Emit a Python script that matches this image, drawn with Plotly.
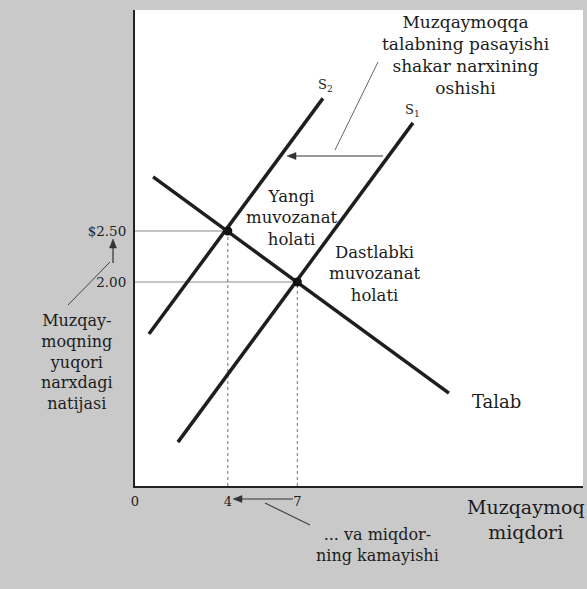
import plotly.graph_objects as go

# ---- data ----
demand_q = [0.78, 13.53]
demand_p = [3.03, 0.91]
s1_q = [1.85, 11.98]
s1_p = [0.43, 3.56]
s2_q = [0.60, 8.10]
s2_p = [1.49, 3.80]
eq_q = [4, 7]
eq_p = [2.50, 2.00]
y_tick_vals = [2.50, 2.00]
y_tick_text = ["$2.50", "2.00"]
x_tick_vals = [0, 4, 7]
x_tick_text = ["0", "4", "7"]

W, H = 587, 589
ML, MR, MT, MB = 135, 4, 10, 103
PW = W - ML - MR
PH = H - MT - MB
XMAX = PW / 23.2
YMAX = PH / 102.0

def pxx(px):
    return (px - ML) / PW

def pxy(py):
    return (H - MB - py) / PH

FONT = "DejaVu Serif"
TXT = "#1c1c1c"
LINE = "#1e1e1e"

fig = go.Figure()

# guide lines to equilibria
for q, p in zip(eq_q, eq_p):
    fig.add_trace(go.Scatter(x=[0, q], y=[p, p], mode="lines",
                             line=dict(color="#8a8a8a", width=1), hoverinfo="skip", showlegend=False))
    fig.add_trace(go.Scatter(x=[q, q], y=[0, p], mode="lines",
                             line=dict(color="#8a8a8a", width=1.2, dash="dot"), hoverinfo="skip", showlegend=False))

for xs, ys in [(demand_q, demand_p), (s1_q, s1_p), (s2_q, s2_p)]:
    fig.add_trace(go.Scatter(x=xs, y=ys, mode="lines",
                             line=dict(color=LINE, width=3.5), showlegend=False))

fig.add_trace(go.Scatter(x=eq_q, y=eq_p, mode="markers",
                         marker=dict(color="#111", size=9), showlegend=False))

ann = []
def txt(x, y, t, size=16, xref="x", yref="y", align="center", xanchor="center", yanchor="middle"):
    ann.append(dict(x=x, y=y, xref=xref, yref=yref, text=t, showarrow=False,
                    font=dict(family=FONT, size=size, color=TXT), align=align,
                    xanchor=xanchor, yanchor=yanchor))

txt(14.27, 4.23, "Muzqaymoqqa<br>talabning pasayishi<br>shakar narxining<br>oshishi", size=17)
txt(6.77, 2.63, "Yangi<br>muvozanat<br>holati", size=16.5)
txt(10.34, 2.08, "Dastlabki<br>muvozanat<br>holati", size=16.5)
txt(15.6, 0.83, "Talab", size=18)
txt(8.19, 3.93, "S<sub>2</sub>", size=13)
txt(11.98, 3.68, "S<sub>1</sub>", size=13)

txt(pxx(77), pxy(362), "Muzqay-<br>moqning<br>yuqori<br>narxdagi<br>natijasi", size=16, xref="paper", yref="paper")
txt(pxx(377), pxy(545), "... va miqdor-<br>ning kamayishi", size=16, xref="paper", yref="paper")
txt(pxx(526), pxy(519), "Muzqaymoq<br>miqdori", size=19, xref="paper", yref="paper")

def pline(x0, y0, x1, y1, color="#444", width=1.2):
    return dict(type="line", xref="paper", yref="paper", x0=pxx(x0), y0=pxy(y0), x1=pxx(x1), y1=pxy(y1),
                line=dict(color=color, width=width))

def ptri(pts, color="#333"):
    path = "M " + " L ".join(f"{pxx(a):.5f},{pxy(b):.5f}" for a, b in pts) + " Z"
    return dict(type="path", xref="paper", yref="paper", path=path,
                fillcolor=color, line=dict(color=color, width=0.5))

shapes = [
    # leader lines
    pline(378, 62, 335, 150, color="#666", width=1),
    pline(68, 305, 110, 262, width=1),
    pline(265, 503, 310, 525),
    # shift arrow S1 -> S2
    pline(383, 156, 294, 156, color="#333"),
    ptri([(287, 156), (296, 152.5), (296, 159.5)]),
    # quantity arrow 7 -> 4
    pline(293, 499, 240, 499, color="#333"),
    ptri([(233, 499), (242, 495.5), (242, 502.5)]),
    # price arrow 2.00 -> 2.50
    pline(113, 263, 113, 247, color="#333"),
    ptri([(113, 239), (109.5, 248), (116.5, 248)]),
]

fig.update_layout(
    width=W, height=H,
    margin=dict(l=ML, r=MR, t=MT, b=MB, pad=0),
    paper_bgcolor="#c9c9c9", plot_bgcolor="white",
    annotations=ann, shapes=shapes, showlegend=False,
    xaxis=dict(range=[0, XMAX], showgrid=False, zeroline=False, showline=True, linecolor="#222", linewidth=2,
               tickvals=x_tick_vals, ticktext=x_tick_text, ticks="", ticklabelstandoff=2,
               tickfont=dict(family=FONT, size=13, color=TXT), fixedrange=True),
    yaxis=dict(range=[0, YMAX], showgrid=False, zeroline=False, showline=True, linecolor="#222", linewidth=2,
               tickvals=y_tick_vals, ticktext=y_tick_text, ticks="", ticklabelstandoff=4,
               tickfont=dict(family=FONT, size=13.5, color=TXT), fixedrange=True),
)

fig.write_html("out.html", config={"displayModeBar": False},
               post_script="document.body.style.margin='0';document.body.style.overflow='hidden';")
